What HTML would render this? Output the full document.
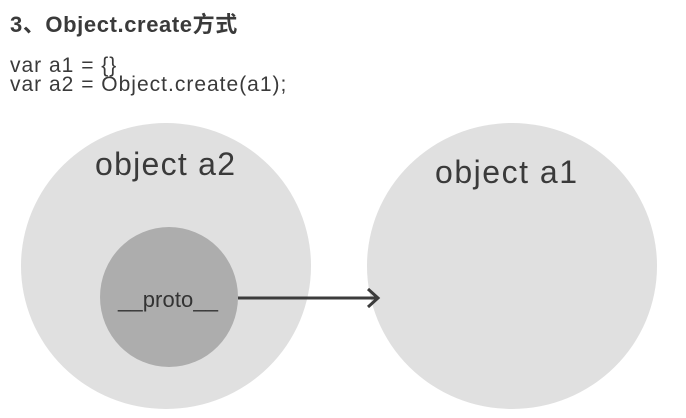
<!DOCTYPE html>
<html><head><meta charset="utf-8"><style>
body{margin:0;width:686px;height:418px;background:#fff;overflow:hidden;position:relative;font-family:"Liberation Sans","Noto Sans CJK SC",sans-serif;color:#333}
.t{position:absolute;white-space:nowrap}
</style></head><body>
<div class="t" style="left:10px;top:7px;font-size:22px;font-weight:bold;color:#3a3a3a;letter-spacing:0.6px">3、Object.create方式</div>
<div class="t" style="left:10px;top:56px;font-size:21px;line-height:19px;color:#3a3a3a;letter-spacing:1px">var a1 = {}<br>var a2 = Object.create(a1);</div>
<svg width="686" height="418" style="position:absolute;left:0;top:0">
<ellipse cx="166" cy="266" rx="145" ry="143" fill="#e0e0e0"/>
<ellipse cx="512" cy="266" rx="145" ry="143" fill="#e0e0e0"/>
<ellipse cx="169" cy="297" rx="69" ry="70" fill="#adadad"/>
<line x1="238" y1="298" x2="377" y2="298" stroke="#3c3c3c" stroke-width="3"/>
<polyline points="368,289 378,298 368,307" fill="none" stroke="#3c3c3c" stroke-width="3"/>
<text x="165" y="175" font-size="32" text-anchor="middle" fill="#3a3a3a" font-family="Liberation Sans, sans-serif" textLength="140">object  a2</text>
<text x="506" y="183" font-size="32" text-anchor="middle" fill="#3a3a3a" font-family="Liberation Sans, sans-serif" textLength="142">object  a1</text>
<text x="168" y="307" font-size="22" text-anchor="middle" fill="#333" font-family="Liberation Sans, sans-serif" textLength="100">__proto__</text>
</svg>
</body></html>
